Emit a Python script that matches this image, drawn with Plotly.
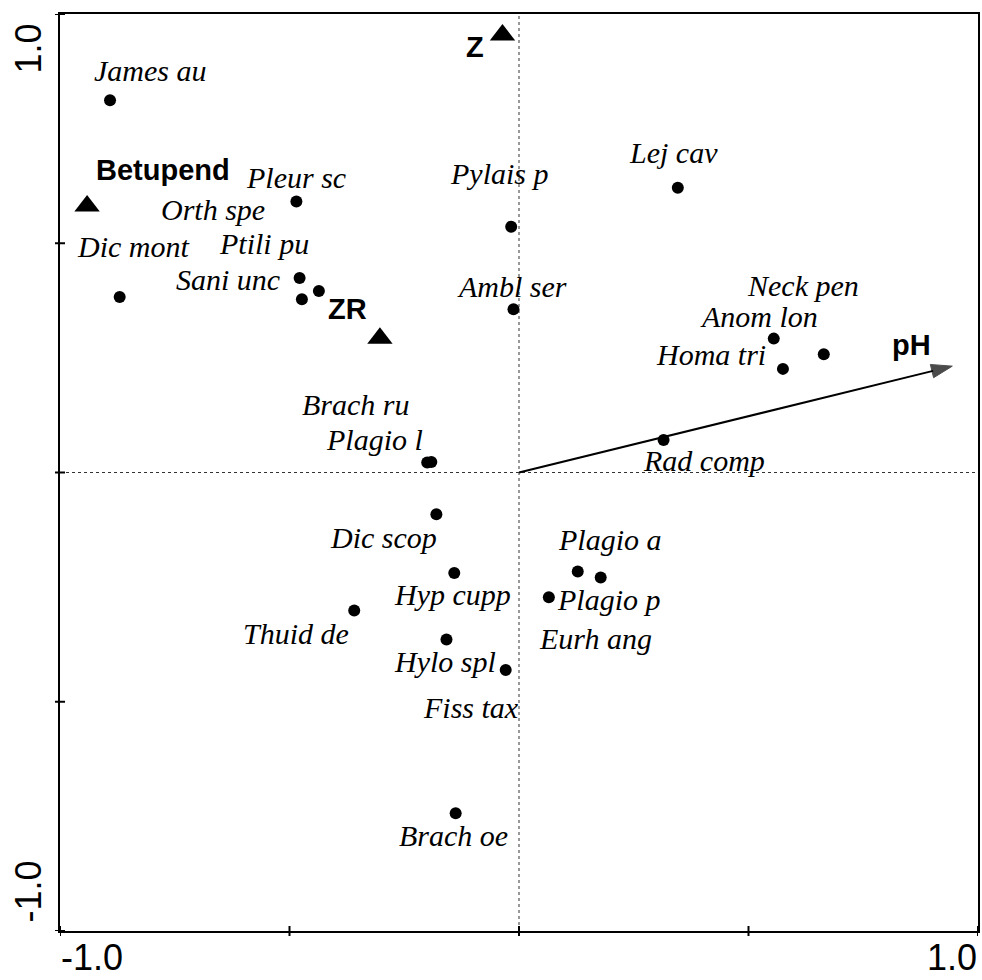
import plotly.graph_objects as go

# ---- data ----
species = ["James au", "Dic mont", "Pleur sc", "Orth spe", "Ptili pu", "Sani unc",
           "Pylais p", "Lej cav", "Ambl ser", "Neck pen", "Anom lon", "Homa tri",
           "Rad comp", "Brach ru", "Plagio l", "Dic scop", "Hyp cupp", "Thuid de",
           "Hylo spl", "Fiss tax", "Plagio a", "Plagio p", "Eurh ang", "Brach oe"]
species_x = [-0.891, -0.870, -0.485, -0.436, -0.478, -0.473,
             -0.017, 0.346, -0.012, 0.664, 0.555, 0.575,
             0.315, -0.200, -0.191, -0.180, -0.141, -0.359,
             -0.158, -0.029, 0.128, 0.178, 0.065, -0.138]
species_y = [0.812, 0.383, 0.591, 0.396, 0.424, 0.378,
             0.536, 0.621, 0.356, 0.258, 0.292, 0.226,
             0.071, 0.022, 0.023, -0.091, -0.219, -0.301,
             -0.364, -0.431, -0.216, -0.229, -0.272, -0.743]

nominal = ["Betupend", "Z", "ZR"]
nominal_x = [-0.941, -0.036, -0.303]
nominal_y = [0.581, 0.954, 0.293]

env_var = ["pH"]
env_x = [0.944]
env_y = [0.232]

tick_vals = [-1.0, -0.5, 0.0, 0.5, 1.0]
tick_labels = ["-1.0", "1.0"]

# ---- label placement (pixel offsets from the point: dx right, dy down) ----
species_label_offsets = [(40, -30), (13, -50), (0, -24), (-106, -81), (-36, -35), (-74, -20),
                         (-12, -53), (-4, -35), (-1, -23), (-21, -69), (-15, -22), (-72, -14),
                         (40, 21), (-71, -58), (-57, -22), (-53, 23), (-2, 22), (-58, 23),
                         (-1, 22), (-35, 37), (32, -32), (8, 22), (47, 41), (-2, 22)]
nominal_label_offsets = [(76, -36), (-27, 12), (-32, -29)]
env_label_offsets = [(-41, -21)]

SERIF = "Liberation Serif"
SANS = "Liberation Sans"

fig = go.Figure()

# zero reference lines
fig.add_shape(type="line", xref="x", yref="paper", x0=0, x1=0, y0=0, y1=1,
              line=dict(color="#333333", width=1, dash="dot"), layer="below")
fig.add_shape(type="line", xref="paper", yref="y", x0=0, x1=1, y0=0, y1=0,
              line=dict(color="#333333", width=1, dash="dot"), layer="below")

# environmental arrow
for name, ex, ey in zip(env_var, env_x, env_y):
    fig.add_trace(go.Scatter(
        x=[0, ex], y=[0, ey], mode="lines+markers",
        line=dict(color="black", width=2),
        marker=dict(symbol="arrow", size=[0, 22], angleref="previous",
                    color="black", line=dict(width=1, color="black")),
        hoverinfo="skip", showlegend=False))

# species points
fig.add_trace(go.Scatter(
    x=species_x, y=species_y, mode="markers", text=species,
    marker=dict(symbol="circle", size=12, color="black"),
    showlegend=False))

# nominal variables
fig.add_trace(go.Scatter(
    x=nominal_x, y=nominal_y, mode="markers", text=nominal,
    marker=dict(symbol="triangle-up", size=22, color="black"),
    showlegend=False))

annotations = []
for name, x, y, (dx, dy) in zip(species, species_x, species_y, species_label_offsets):
    annotations.append(dict(x=x, y=y, xref="x", yref="y", text=name, showarrow=False,
                            xanchor="center", yanchor="middle", xshift=dx, yshift=-dy,
                            font=dict(family=SERIF, size=30, color="black", style="italic")))
for name, x, y, (dx, dy) in zip(nominal, nominal_x, nominal_y, nominal_label_offsets):
    annotations.append(dict(x=x, y=y, xref="x", yref="y", text=name, showarrow=False,
                            xanchor="center", yanchor="middle", xshift=dx, yshift=-dy,
                            font=dict(family=SANS, size=29, color="black", weight="bold")))
for name, x, y, (dx, dy) in zip(env_var, env_x, env_y, env_label_offsets):
    annotations.append(dict(x=x, y=y, xref="x", yref="y", text=name, showarrow=False,
                            xanchor="center", yanchor="middle", xshift=dx, yshift=-dy,
                            font=dict(family=SANS, size=29, color="black", weight="bold")))

# axis end labels
tick_font = dict(family=SANS, size=36, color="black")
annotations += [
    dict(x=tick_vals[0], y=0, xref="x", yref="paper", text=tick_labels[0], showarrow=False,
         xanchor="left", yanchor="top", yshift=-5, borderpad=0, font=tick_font),
    dict(x=tick_vals[-1], y=0, xref="x", yref="paper", text=tick_labels[1], showarrow=False,
         xanchor="right", yanchor="top", yshift=-5, borderpad=0, font=tick_font),
    dict(x=0, y=tick_vals[-1], xref="paper", yref="y", text=tick_labels[1], showarrow=False,
         xanchor="right", yanchor="top", xshift=-10, yshift=-8, textangle=-90, font=tick_font),
    dict(x=0, y=tick_vals[0], xref="paper", yref="y", text=tick_labels[0], showarrow=False,
         xanchor="right", yanchor="bottom", xshift=-10, yshift=6, textangle=-90, font=tick_font),
]

# crossing tick marks on left and bottom axes
for t in tick_vals:
    fig.add_shape(type="line", xref="x", yref="paper", xsizemode="scaled",
                  ysizemode="pixel", yanchor=0, x0=t, x1=t, y0=-5, y1=5,
                  line=dict(color="black", width=2))
    fig.add_shape(type="line", xref="paper", yref="y", ysizemode="scaled",
                  xsizemode="pixel", xanchor=0, y0=t, y1=t, x0=-5, x1=5,
                  line=dict(color="black", width=2))

fig.update_layout(
    width=982, height=980,
    margin=dict(l=60, r=2, t=14, b=49),
    paper_bgcolor="white", plot_bgcolor="white",
    annotations=annotations,
    showlegend=False,
)
fig.update_xaxes(range=[-1, 1], showgrid=False, zeroline=False, showticklabels=False,
                 ticks="", showline=True, linecolor="black", linewidth=2, mirror=True)
fig.update_yaxes(range=[-1, 1], showgrid=False, zeroline=False, showticklabels=False,
                 ticks="", showline=True, linecolor="black", linewidth=2, mirror=True)

fig.write_html("out.html", config={"displayModeBar": False},
               post_script="document.body.style.margin='0';document.body.style.overflow='hidden';")
